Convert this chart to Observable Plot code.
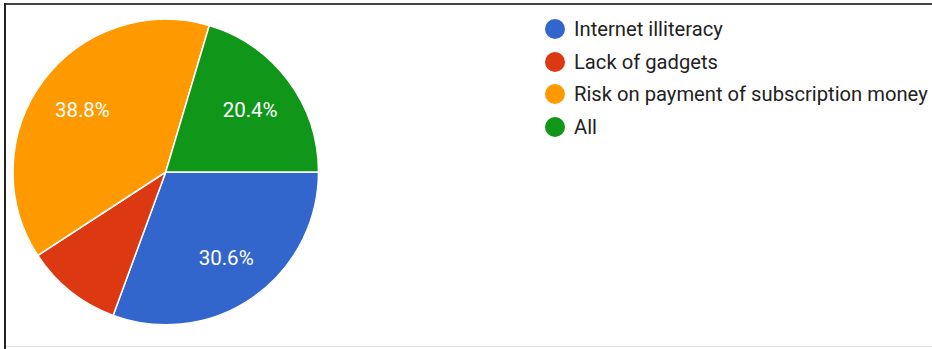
<!DOCTYPE html>
<html>
<head>
<meta charset="utf-8">
<script src="https://cdn.jsdelivr.net/npm/d3@7"></script>
<script src="https://cdn.jsdelivr.net/npm/@observablehq/plot@0.6"></script>
<style>
  html, body { margin: 0; padding: 0; background: #fff; }
  #wrap { position: relative; width: 932px; height: 349px; overflow: hidden; font-family: Roboto, "Noto Sans", sans-serif; }
  .edge { position: absolute; }
  #legend { position: absolute; left: 545px; top: 13px; }
  .item { display: flex; align-items: center; height: 32.6px; }
  .sw { width: 20px; height: 20px; border-radius: 50%; margin-right: 9px; flex: none; }
  .lab { font-size: 20.2px; color: #222; white-space: nowrap; }
  #chart { position: absolute; left: 0; top: 0; }
</style>
</head>
<body>
<div id="wrap">
  <div id="chart"></div>
  <div id="legend"></div>
  <div class="edge" style="left:4px;top:3px;width:928px;height:2px;background:#444;"></div>
  <div class="edge" style="left:4px;top:3px;width:2px;height:346px;background:#222;"></div>
  <div class="edge" style="left:6px;top:346px;width:926px;height:1px;background:#e2e2e2;"></div>
</div>
<script>
const categories = ["Internet illiteracy", "Lack of gadgets", "Risk on payment of subscription money", "All"];
const values = [30.6, 10.2, 38.8, 20.4];
const colors = ["#3366cc", "#dc3912", "#ff9900", "#109618"];

const data = categories.map((c, i) => ({category: c, value: values[i], color: colors[i]}));
const pie = d3.pie().sort(null).value(d => d.value)
  .startAngle(Math.PI / 2).endAngle(Math.PI / 2 + 2 * Math.PI);
const arcs = pie(data);
const labelRadius = 0.685;
const labels = arcs.filter(a => a.data.value >= 15).map(a => {
  const m = (a.startAngle + a.endAngle) / 2;
  return {x: labelRadius * Math.sin(m), y: labelRadius * Math.cos(m), text: a.data.value.toFixed(1) + "%"};
});

function slices(index, scales) {
  const sx = scales.x, sy = scales.y;
  const cx = sx(0), cy = sy(0);
  const r = Math.abs(sx(1) - sx(0));
  const arc = d3.arc().innerRadius(0).outerRadius(r);
  const g = d3.create("svg:g").attr("transform", `translate(${cx},${cy})`);
  g.selectAll("path").data(arcs).join("path")
    .attr("d", arc)
    .attr("fill", d => d.data.color)
    .attr("stroke", "#fff")
    .attr("stroke-width", 1.5)
    .attr("stroke-linejoin", "round");
  return g.node();
}

const chart = Plot.plot({
  width: 932,
  height: 349,
  margin: 0,
  style: {background: "transparent", fontFamily: "Roboto, sans-serif"},
  x: {domain: [-1, 1], range: [13, 318.5], axis: null},
  y: {domain: [-1, 1], range: [324.5, 19.5], axis: null},
  marks: [
    slices,
    Plot.text(labels, {x: "x", y: "y", text: "text", fill: "#fff", fontSize: 20.5, fontFamily: "Roboto, sans-serif"})
  ]
});
document.getElementById("chart").appendChild(chart);

const legend = d3.select("#legend");
const items = legend.selectAll(".item").data(data).join("div").attr("class", "item");
items.append("div").attr("class", "sw").style("background", d => d.color);
items.append("div").attr("class", "lab").text(d => d.category);
</script>
</body>
</html>
